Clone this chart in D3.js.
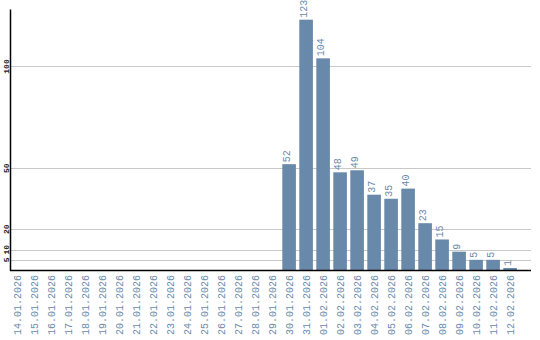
<!DOCTYPE html>
<html lang="en">
<head>
  <meta charset="UTF-8">
  <title>Daily counts</title>
  <script src="https://d3js.org/d3.v7.min.js"></script>
  <style>
    body { margin: 0; background: #fff; }
    text { font-family: "Liberation Mono", "DejaVu Sans Mono", monospace; }
  </style>
</head>
<body>
<div id="chart"></div>
<script>
// dates along the bottom
var days = ["14.01.2026", "15.01.2026", "16.01.2026", "17.01.2026", "18.01.2026",
  "19.01.2026", "20.01.2026", "21.01.2026", "22.01.2026", "23.01.2026",
  "24.01.2026", "25.01.2026", "26.01.2026", "27.01.2026", "28.01.2026",
  "29.01.2026", "30.01.2026", "31.01.2026", "01.02.2026", "02.02.2026",
  "03.02.2026", "04.02.2026", "05.02.2026", "06.02.2026", "07.02.2026",
  "08.02.2026", "09.02.2026", "10.02.2026", "11.02.2026", "12.02.2026"];

// count per day
var counts = [0, 0, 0, 0, 0, 0, 0, 0, 0, 0, 0, 0, 0, 0, 0, 0,
  52, 123, 104, 48, 49, 37, 35, 40, 23, 15, 9, 5, 5, 1];

// gridline / tick values on the y axis
var yTicks = [5, 10, 20, 50, 100];

var width = 540, height = 340;
// note: "top" is reserved on window, so keep the plot box in an object
var plot = {left: 10.5, right: 531, top: 9.5, bottom: 270};

var svg = d3.select("#chart").append("svg")
  .attr("width", width)
  .attr("height", height);

var x = d3.scaleBand()
  .domain(days)
  .range([8.6, 518.6])
  .paddingInner(0.2)
  .paddingOuter(0.1);

var y = d3.scaleLinear()
  .domain([0, 128])
  .range([plot.bottom, plot.top]);

// horizontal gridlines
svg.append("g").selectAll("line")
  .data(yTicks)
  .enter().append("line")
  .attr("x1", plot.left)
  .attr("x2", plot.right)
  .attr("y1", function(d) { return Math.round(y(d)) + 0.5; })
  .attr("y2", function(d) { return Math.round(y(d)) + 0.5; })
  .attr("stroke", "#c8c8c8")
  .attr("stroke-width", 1);

// y tick labels, rotated
svg.append("g").selectAll("text")
  .data(yTicks)
  .enter().append("text")
  .attr("transform", function(d) { return "translate(9," + y(d) + ") rotate(-90)"; })
  .attr("text-anchor", "middle")
  .style("font-size", "8px")
  .style("font-weight", "bold")
  .attr("fill", "#222")
  .text(function(d) { return d; });

// bars
var rows = days.map(function(d, i) { return {day: d, v: counts[i]}; })
  .filter(function(d) { return d.v > 0; });

svg.append("g").selectAll("rect")
  .data(rows)
  .enter().append("rect")
  .attr("x", function(d) { return x(d.day); })
  .attr("width", x.bandwidth())
  .attr("y", function(d) { return y(d.v); })
  .attr("height", function(d) { return plot.bottom - y(d.v); })
  .attr("fill", "#6889aa");

// value labels above bars
svg.append("g").selectAll("text")
  .data(rows)
  .enter().append("text")
  .attr("transform", function(d) {
    return "translate(" + (x(d.day) + x.bandwidth() / 2 + 1) + "," + (y(d.v) - 2) + ") rotate(-90)";
  })
  .style("font-size", "10px")
  .attr("fill", "#6a8aab")
  .text(function(d) { return d.v; });

// axis lines
svg.append("line")
  .attr("x1", plot.left).attr("x2", plot.left)
  .attr("y1", plot.top).attr("y2", plot.bottom + 1)
  .attr("stroke", "#000").attr("stroke-width", 1.5);
svg.append("line")
  .attr("x1", plot.left - 0.5).attr("x2", plot.right)
  .attr("y1", plot.bottom + 0.5).attr("y2", plot.bottom + 0.5)
  .attr("stroke", "#000").attr("stroke-width", 1.5);

// x labels
svg.append("g").selectAll("text")
  .data(days)
  .enter().append("text")
  .attr("transform", function(d) {
    return "translate(" + (x(d) + x.bandwidth() / 2 + 4) + "," + (plot.bottom + 5) + ") rotate(-90)";
  })
  .attr("text-anchor", "end")
  .style("font-size", "10px")
  .attr("fill", "#6a8aab")
  .text(function(d) { return d; });
</script>
</body>
</html>
